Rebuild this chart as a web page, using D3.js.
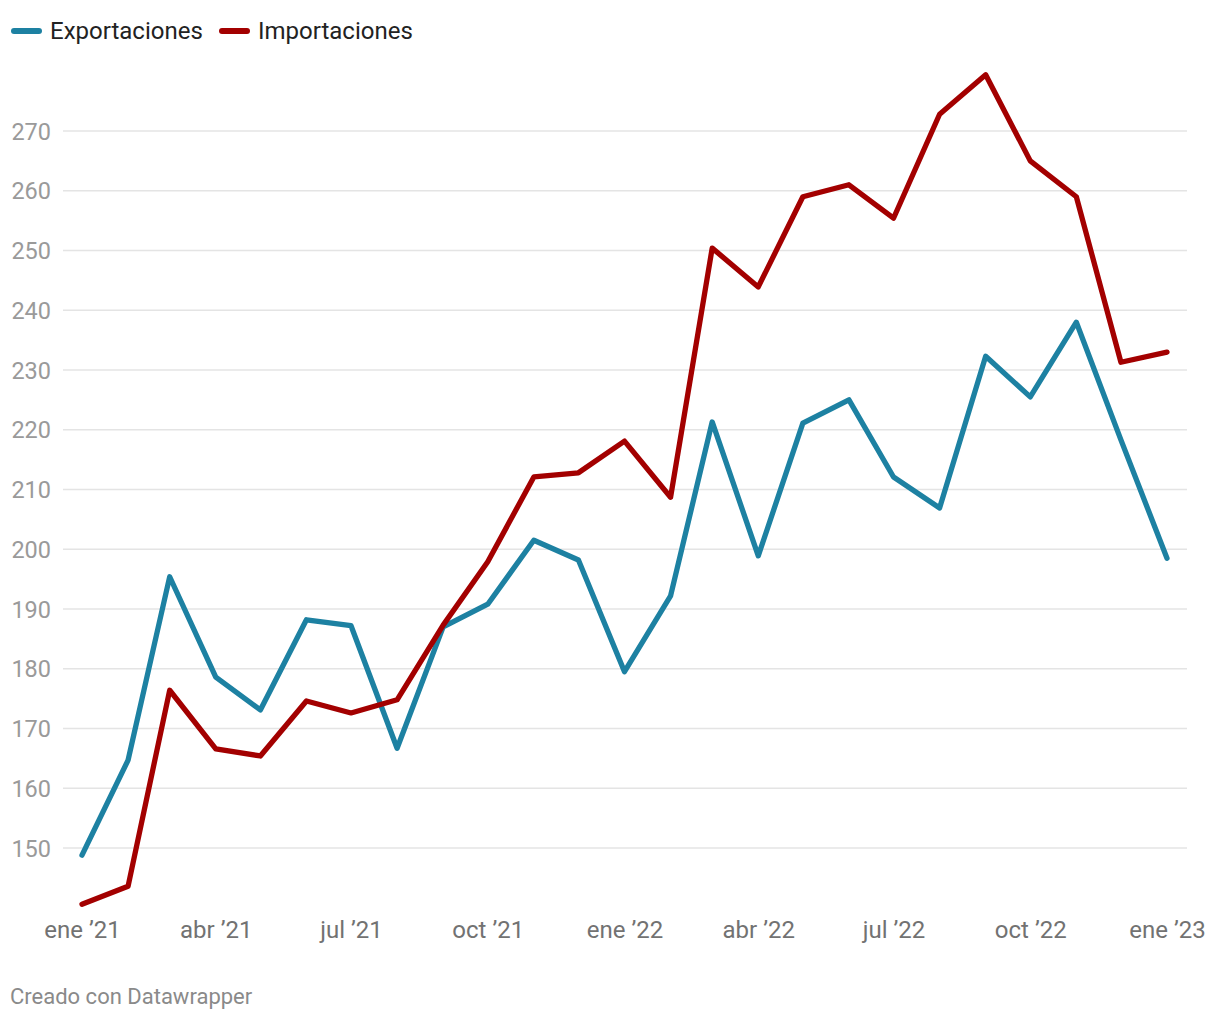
<!DOCTYPE html>
<html>
<head>
<meta charset="utf-8">
<script src="https://cdn.jsdelivr.net/npm/d3@7"></script>
<style>
  body { margin: 0; background: #fff; font-family: Roboto, "Noto Sans", sans-serif; }
  svg { display: block; }
</style>
</head>
<body>
<svg id="chart" width="1220" height="1020"></svg>
<script>
// months from ene '21 to ene '23
const months = d3.range(25).map(i => new Date(2021, i, 1))

const exportaciones = [148.8, 164.7, 195.4, 178.6, 173.1, 188.2, 187.2, 166.7, 187.0, 190.8, 201.5, 198.2,
  179.5, 192.2, 221.3, 198.9, 221.1, 225.0, 212.1, 206.9, 232.3, 225.5, 238.0, 218.3, 198.5]
const importaciones = [140.6, 143.6, 176.4, 166.6, 165.4, 174.6, 172.6, 174.8, 187.3, 197.9, 212.1, 212.8,
  218.1, 208.7, 250.4, 243.9, 259.0, 261.0, 255.4, 272.8, 279.4, 265.0, 259.0, 231.3, 233.0]

const seriesNames = ["Exportaciones", "Importaciones"]
const colors = ["#1d81a2", "#a30000"]
const yTicks = [150, 160, 170, 180, 190, 200, 210, 220, 230, 240, 250, 260, 270]
const xTicks = [0, 3, 6, 9, 12, 15, 18, 21, 24].map(i => months[i])
const mesLabels = ["ene", "feb", "mar", "abr", "may", "jun", "jul", "ago", "sep", "oct", "nov", "dic"]

const svg = d3.select("#chart")

const x = d3.scaleTime()
  .domain([months[0], months[24]])
  .range([82, 1167])

const y = d3.scaleLinear()
  .domain([150, 270])
  .range([848, 131])

// grid + y labels
svg.append("g")
  .selectAll("line")
  .data(yTicks)
  .join("line")
    .attr("x1", 63).attr("x2", 1187)
    .attr("y1", d => y(d)).attr("y2", d => y(d))
    .attr("stroke", "#e4e4e4")
    .attr("stroke-width", 1.5)

const yAxis = d3.axisLeft(y)
  .tickValues(yTicks)
  .tickSize(0)
  .tickPadding(12)

const gy = svg.append("g")
  .attr("transform", "translate(63,0)")
  .call(yAxis)
gy.select(".domain").remove()
gy.selectAll("text")
  .attr("font-family", "Roboto, sans-serif")
  .attr("font-size", 23.5)
  .attr("fill", "#9a9a9a")
  .attr("dy", "0.35em")

// x axis
const xAxis = d3.axisBottom(x)
  .tickValues(xTicks)
  .tickSize(0)
  .tickPadding(0)
  .tickFormat(d => `${mesLabels[d.getMonth()]} \u2019${String(d.getFullYear()).slice(2)}`)

const gx = svg.append("g")
  .attr("transform", "translate(0,930)")
  .call(xAxis)
gx.select(".domain").remove()
gx.selectAll("text")
  .attr("font-family", "Roboto, sans-serif")
  .attr("font-size", 24)
  .attr("fill", "#727272")
  .attr("dy", "0.35em")

// lines
const line = d3.line()
  .x((d, i) => x(months[i]))
  .y(d => y(d))

svg.append("g")
  .selectAll("path")
  .data([exportaciones, importaciones])
  .join("path")
    .attr("d", line)
    .attr("fill", "none")
    .attr("stroke", (d, i) => colors[i])
    .attr("stroke-width", 5.3)
    .attr("stroke-linejoin", "round")
    .attr("stroke-linecap", "round")

// legend
const legendX = [14, 222]
const legend = svg.append("g")
  .selectAll("g")
  .data(seriesNames)
  .join("g")
    .attr("transform", (d, i) => `translate(${legendX[i]},31)`)

legend.append("line")
  .attr("x1", 0).attr("x2", 25)
  .attr("stroke", (d, i) => colors[i])
  .attr("stroke-width", 6)
  .attr("stroke-linecap", "round")

legend.append("text")
  .attr("x", 36)
  .attr("dy", "0.35em")
  .attr("font-family", "Roboto, sans-serif")
  .attr("font-size", 24)
  .attr("fill", "#222")
  .text(d => d)

// footer
svg.append("text")
  .attr("x", 10)
  .attr("y", 1004)
  .attr("font-family", "Roboto, sans-serif")
  .attr("font-size", 22)
  .attr("fill", "#8a8a8a")
  .text("Creado con Datawrapper")
</script>
</body>
</html>
